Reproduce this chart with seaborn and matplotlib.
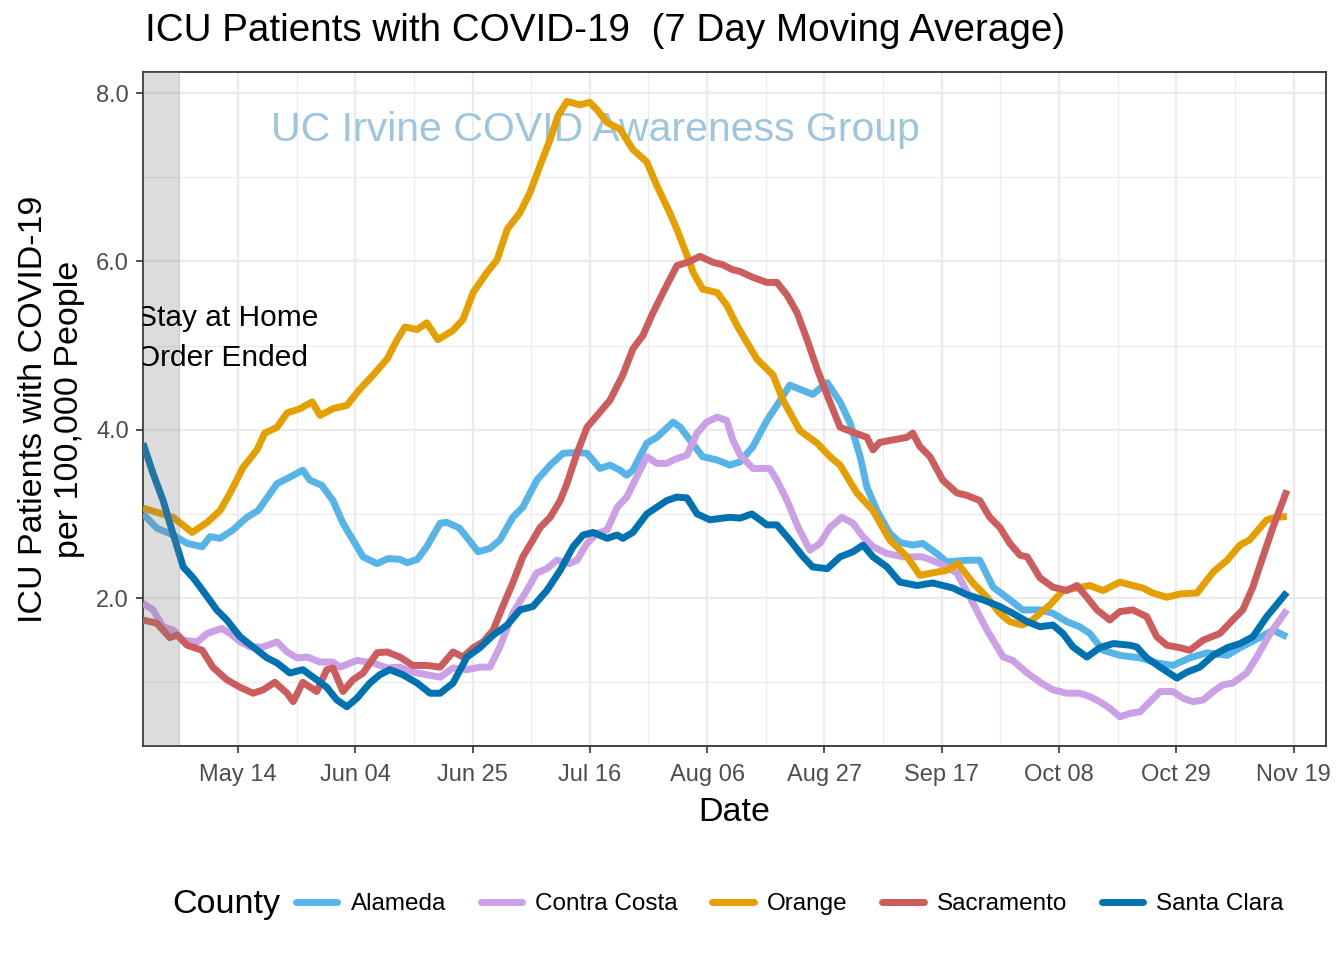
import numpy as np
import pandas as pd
import matplotlib
matplotlib.use("Agg")
import matplotlib.pyplot as plt
import seaborn as sns
from matplotlib.lines import Line2D

START = "2020-04-27"
SHADE_END = "2020-05-03 14:00"

# ---- data: (days since START, ICU patients per 100k) ----
alameda_days = [0, 2.5, 5.4, 7.9, 10.6, 12, 13.8, 16.1, 18.6, 20.6, 22.2, 24, 25.8, 28.6, 29.9, 32, 34, 35.8, 37.6, 39.4,
                41.9, 43.9, 46, 47.3, 49.1, 50.8, 53.2, 54.4, 56.7, 60, 62.1, 63.9, 66.2, 68, 70.5, 72.9, 75.2, 77.7, 79.5,
                81.8, 83.6, 85.4, 86.6, 87.7, 90.2, 92, 94.9, 96.2, 97.9, 100.2, 102.8, 105.1, 106.9, 109.2, 111.7, 113.7,
                115.8, 119.9, 122.5, 124.8, 126.6, 128.4, 129.6, 131.4, 133.7, 135.5, 137.8, 139.6, 142.1, 143.9, 147.5,
                149.8, 152.2, 155.2, 157.5, 160.6, 162.9, 165.4, 167.7, 169.5, 171.9, 174.9, 178.5, 181.5, 184.4, 187.4,
                190.5, 194.1, 196.4, 199.9, 202.3, 204.8]
alameda_vals = [3.0, 2.83, 2.75, 2.65, 2.61, 2.73, 2.71, 2.81, 2.96, 3.04, 3.19, 3.36, 3.42, 3.52, 3.4, 3.34, 3.16, 2.89, 2.69,
                2.49, 2.41, 2.47, 2.46, 2.42, 2.46, 2.61, 2.89, 2.9, 2.83, 2.55, 2.59, 2.69, 2.96, 3.08, 3.4, 3.58, 3.72, 3.73,
                3.72, 3.54, 3.58, 3.52, 3.46, 3.52, 3.84, 3.91, 4.09, 4.03, 3.88, 3.68, 3.64, 3.58, 3.62, 3.8, 4.11, 4.31,
                4.53, 4.42, 4.56, 4.33, 4.08, 3.68, 3.32, 3.04, 2.77, 2.66, 2.63, 2.65, 2.53, 2.43, 2.45, 2.45, 2.13, 1.98,
                1.86, 1.86, 1.82, 1.72, 1.66, 1.58, 1.38, 1.32, 1.29, 1.23, 1.2, 1.29, 1.35, 1.32, 1.41, 1.53, 1.62, 1.54]

contra_days = [0, 1.8, 3.6, 5.4, 7.2, 9.7, 11.5, 14.1, 15.6, 17.4, 19.2, 21.5, 24, 25.8, 27.6, 29.4, 31.7, 34, 35.3, 38.3,
               41.2, 43.7, 46, 48.3, 50.8, 53.2, 55.5, 58, 60.3, 62.1, 63.9, 66.2, 68.7, 70.5, 72.3, 74.1, 76.4, 77.7, 79.5,
               81.3, 83.1, 84.9, 86.6, 88.4, 90.2, 92, 93.8, 94.9, 97.4, 99.2, 100.9, 102.8, 104.5, 105.6, 106.9, 109.2,
               112.2, 113.5, 115.3, 117.3, 119.4, 121.2, 123, 125.1, 127.1, 128.9, 130.7, 133.2, 136.1, 139.6, 142.7, 145.7,
               148.6, 151.1, 154, 155.7, 158.3, 160.6, 162.9, 165.4, 167.7, 169.5, 171.3, 173.1, 174.9, 176.7, 178.5, 180.3,
               182.1, 184.4, 186.2, 188, 189.8, 191.6, 193.3, 195.1, 197.6, 199.4, 201.8, 204.8]
contra_vals = [1.94, 1.86, 1.66, 1.62, 1.5, 1.48, 1.58, 1.64, 1.58, 1.48, 1.42, 1.42, 1.48, 1.36, 1.29, 1.3, 1.24, 1.24, 1.18,
               1.26, 1.23, 1.17, 1.18, 1.12, 1.09, 1.06, 1.17, 1.15, 1.18, 1.18, 1.42, 1.82, 2.09, 2.3, 2.35, 2.45, 2.41, 2.45,
               2.65, 2.77, 2.81, 3.08, 3.2, 3.44, 3.68, 3.6, 3.6, 3.64, 3.7, 3.96, 4.09, 4.15, 4.11, 3.88, 3.7, 3.54, 3.54,
               3.4, 3.16, 2.84, 2.57, 2.65, 2.84, 2.96, 2.89, 2.73, 2.61, 2.53, 2.49, 2.49, 2.41, 2.3, 1.94, 1.62, 1.3, 1.26,
               1.11, 1.0, 0.91, 0.87, 0.87, 0.83, 0.77, 0.69, 0.59, 0.63, 0.65, 0.77, 0.89, 0.89, 0.81, 0.77, 0.79, 0.89,
               0.97, 0.99, 1.11, 1.3, 1.58, 1.86]

orange_days = [0, 5.4, 8.8, 11.5, 13.8, 15.6, 17.9, 20.4, 21.8, 24, 25.8, 28.1, 30.3, 31.7, 34, 36.5, 38.8, 41.2, 43.7, 45.5,
               46.9, 49.1, 50.8, 52.8, 55.5, 57.3, 59.1, 61.6, 63.4, 65.2, 67.5, 69.3, 71.1, 72.9, 74.3, 75.9, 78.2, 80,
               81.3, 83.1, 85.4, 87.7, 90.2, 92, 94.3, 95.6, 97.4, 98.5, 100.2, 102.8, 104.5, 106.5, 109.9, 112.8, 114.6,
               117.6, 120.7, 123, 124.8, 127.8, 130.7, 133.7, 136.8, 139.1, 141.4, 143.9, 145.9, 148.6, 151.1, 153.4, 155.2,
               157.4, 159.3, 160.6, 162.4, 164.7, 167.2, 169.5, 171.9, 174.9, 177.2, 179, 180.8, 183.3, 185.7, 188.7, 191.6,
               194.1, 196.4, 198.1, 201.2, 203, 204.8]
orange_vals = [3.07, 2.96, 2.78, 2.9, 3.04, 3.25, 3.55, 3.76, 3.96, 4.03, 4.2, 4.25, 4.33, 4.17, 4.25, 4.29, 4.48, 4.65, 4.84,
               5.07, 5.22, 5.19, 5.27, 5.07, 5.18, 5.31, 5.63, 5.87, 6.02, 6.38, 6.58, 6.82, 7.14, 7.45, 7.73, 7.9, 7.86, 7.89,
               7.8, 7.65, 7.57, 7.33, 7.18, 6.9, 6.58, 6.38, 6.07, 5.87, 5.67, 5.63, 5.48, 5.22, 4.84, 4.65, 4.35, 3.99, 3.84,
               3.68, 3.58, 3.25, 3.04, 2.69, 2.49, 2.27, 2.3, 2.33, 2.41, 2.18, 2.01, 1.82, 1.72, 1.68, 1.74, 1.82, 1.92, 2.09,
               2.12, 2.15, 2.09, 2.19, 2.15, 2.12, 2.06, 2.01, 2.05, 2.06, 2.31, 2.45, 2.63, 2.69, 2.93, 2.96, 2.97]

sacramento_days = [0, 2.5, 4.8, 6.1, 7.9, 10.6, 12.5, 15, 17.4, 19.7, 21.5, 23.6, 25.8, 26.9, 28.6, 31.1, 32.9, 34, 35.8,
                   37.6, 39.4, 41.9, 43.7, 46, 48.3, 50.8, 53.2, 55.5, 57.3, 59.1, 60.9, 62.7, 64.4, 66.2, 68, 69.8, 71.1,
                   72.9, 74.7, 75.9, 77.7, 79.5, 81.3, 83.6, 85.9, 87.7, 89.5, 91.3, 93.8, 95.6, 97.9, 99.7, 102, 103.8,
                   105.6, 106.9, 109.2, 111.7, 113.5, 115.3, 117.1, 118.9, 120.7, 122.5, 124.8, 127.1, 129.6, 130.7, 131.9,
                   134.3, 136.8, 137.8, 139.1, 140.9, 143.2, 145.7, 147.5, 149.8, 151.6, 153.4, 155.2, 157, 158.3, 160.6,
                   162.9, 165.4, 167.2, 169, 170.8, 173.1, 174.9, 177.2, 179.7, 181.5, 183.3, 185.7, 187.4, 189.8, 192.8,
                   195.1, 196.9, 198.7, 200.5, 202.3, 204.8]
sacramento_vals = [1.74, 1.7, 1.53, 1.56, 1.44, 1.38, 1.18, 1.03, 0.94, 0.87, 0.91, 1.0, 0.87, 0.77, 1.0, 0.89, 1.15, 1.17,
                   0.89, 1.03, 1.11, 1.35, 1.36, 1.3, 1.2, 1.2, 1.18, 1.36, 1.3, 1.41, 1.48, 1.62, 1.9, 2.18, 2.49, 2.69, 2.84,
                   2.96, 3.16, 3.36, 3.72, 4.03, 4.17, 4.35, 4.65, 4.96, 5.12, 5.39, 5.72, 5.95, 6.0, 6.06, 5.99, 5.96, 5.9,
                   5.88, 5.81, 5.75, 5.75, 5.6, 5.39, 5.07, 4.72, 4.41, 4.03, 3.97, 3.91, 3.76, 3.85, 3.88, 3.91, 3.96, 3.8,
                   3.68, 3.4, 3.25, 3.22, 3.16, 2.96, 2.84, 2.65, 2.51, 2.49, 2.24, 2.13, 2.09, 2.15, 2.01, 1.86, 1.74, 1.84,
                   1.86, 1.78, 1.54, 1.44, 1.41, 1.38, 1.5, 1.58, 1.74, 1.86, 2.13, 2.49, 2.84, 3.28]

santaclara_days = [0, 1.8, 3.6, 4.8, 6.1, 7.2, 9, 10.7, 13.2, 15, 17.4, 19.7, 22.2, 24, 26.3, 28.6, 31.1, 32.9, 34.7, 36.5,
                   38.3, 40.6, 42.4, 44.2, 46.5, 49.1, 51.4, 53.2, 55.5, 58, 60.3, 62.7, 65.2, 67.5, 69.8, 72.3, 74.7, 77,
                   78.8, 80.6, 83.1, 84.9, 85.9, 87.7, 90.2, 92, 93.8, 95.6, 97.4, 99.2, 101.5, 103.8, 105.1, 106.9, 109,
                   111.7, 113.5, 115.8, 118.2, 119.9, 122.5, 124.8, 127.1, 128.9, 130.7, 133.2, 135.5, 138.6, 141.4, 145,
                   147.5, 150.4, 153.4, 155.7, 158.3, 160.6, 162.9, 164.7, 166.5, 169, 171.3, 173.7, 176.7, 177.9, 179.7,
                   182.1, 185.1, 186.9, 189.2, 191.6, 194.1, 196.4, 198.7, 201.2, 204.8]
santaclara_vals = [3.84, 3.48, 3.16, 2.89, 2.61, 2.37, 2.24, 2.09, 1.86, 1.74, 1.54, 1.42, 1.29, 1.23, 1.11, 1.15, 1.03, 0.94,
                   0.79, 0.71, 0.81, 0.99, 1.09, 1.15, 1.09, 0.99, 0.87, 0.87, 0.99, 1.3, 1.41, 1.56, 1.68, 1.86, 1.9, 2.09,
                   2.33, 2.61, 2.75, 2.78, 2.71, 2.75, 2.71, 2.78, 3.0, 3.08, 3.16, 3.2, 3.19, 3.0, 2.93, 2.95, 2.96, 2.95,
                   3.0, 2.87, 2.87, 2.69, 2.49, 2.37, 2.35, 2.49, 2.55, 2.63, 2.49, 2.37, 2.19, 2.15, 2.18, 2.12, 2.04, 1.98,
                   1.9, 1.82, 1.72, 1.66, 1.68, 1.58, 1.42, 1.3, 1.41, 1.46, 1.44, 1.42, 1.29, 1.18, 1.05, 1.12, 1.18, 1.32,
                   1.41, 1.46, 1.54, 1.78, 2.07]

counties = ["Alameda", "Contra Costa", "Orange", "Sacramento", "Santa Clara"]
colors = ["#56B4E9", "#CBA0E6", "#E69F00", "#CD5C5C", "#0072B2"]
major_ticks = ["2020-05-14", "2020-06-04", "2020-06-25", "2020-07-16", "2020-08-06",
               "2020-08-27", "2020-09-17", "2020-10-08", "2020-10-29", "2020-11-19"]
y_ticks = [2.0, 4.0, 6.0, 8.0]
y_minor = [1.0, 3.0, 5.0, 7.0]

series = {
    "Alameda": (alameda_days, alameda_vals),
    "Contra Costa": (contra_days, contra_vals),
    "Orange": (orange_days, orange_vals),
    "Sacramento": (sacramento_days, sacramento_vals),
    "Santa Clara": (santaclara_days, santaclara_vals),
}
start = pd.Timestamp(START)
frames = []
for name in counties:
    d, v = series[name]
    frames.append(pd.DataFrame({
        "Date": start + pd.to_timedelta(np.array(d), unit="D"),
        "value": v,
        "County": name,
    }))
df = pd.concat(frames, ignore_index=True)

sns.set_theme(style="white")
plt.rcParams["font.family"] = ["Liberation Sans", "DejaVu Sans"]
plt.rcParams["text.color"] = "black"
plt.rcParams["axes.labelcolor"] = "black"

fig = plt.figure(figsize=(13.44, 9.6), dpi=100)
ax = fig.add_axes([143 / 1344, 1 - 746 / 960, (1326 - 143) / 1344, (746 - 72) / 960])

sns.lineplot(data=df, x="Date", y="value", hue="County", hue_order=counties,
             palette=colors, estimator=None, linewidth=5.0, ax=ax, legend=False,
             solid_capstyle="butt", zorder=3)

ax.axvspan(start - pd.Timedelta(days=5), pd.Timestamp(SHADE_END), color="#7F7F7F",
           alpha=0.27, lw=0, zorder=4)

x0 = start
x1 = start + pd.Timedelta(days=211.8)
ax.set_xlim(x0, x1)
ax.set_ylim(0.243, 8.25)

maj = pd.to_datetime(major_ticks)
ax.set_xticks(maj)
ax.set_xticklabels([t.strftime("%b %d") for t in maj])
ax.set_xticks(maj - pd.Timedelta(hours=252), minor=True)
ax.set_yticks(y_ticks)
ax.set_yticklabels([f"{v:.1f}" for v in y_ticks])
ax.set_yticks(y_minor, minor=True)

ax.set_axisbelow(True)
ax.grid(which="major", color="#EBEBEB", lw=1.6)
ax.grid(which="minor", color="#EBEBEB", lw=0.9)
for s in ax.spines.values():
    s.set_color("#333333")
    s.set_linewidth(1.3)
ax.tick_params(which="major", length=5, width=1.2, color="#333333",
               labelcolor="#4D4D4D", labelsize=17, pad=5, bottom=True, left=True)
ax.tick_params(axis="x", which="major", pad=8)
ax.tick_params(which="minor", length=0)

ax.set_xlabel("Date", fontsize=24.5, labelpad=8, color="black")
ax.set_ylabel("ICU Patients with COVID-19\nper 100,000 People", fontsize=24.5,
              labelpad=8, color="black", linespacing=1.2)

ax.text(start + pd.Timedelta(days=81), 7.56, "UC Irvine COVID Awareness Group",
        color="#9EC5DE", fontsize=29.5, ha="center", va="center", zorder=2)
ax.text(start - pd.Timedelta(days=1.0), 5.09, "Stay at Home\nOrder Ended",
        fontsize=21.5, ha="left", va="center", linespacing=1.55, clip_on=True, zorder=5)

fig.text(145 / 1344, 1 - 31 / 960, "ICU Patients with COVID-19  (7 Day Moving Average)",
         fontsize=27.8, ha="left", va="center", color="black")

fig.text(172 / 1344, 1 - 904 / 960, "County", fontsize=24.5, ha="left", va="center", color="black")
handles = [Line2D([0], [0], color=c, lw=5) for c in colors]
fig.legend(handles, counties, loc="center left", bbox_to_anchor=(296 / 1344, 1 - 904 / 960),
           ncol=5, frameon=False, fontsize=17.5, handlelength=1.7, handletextpad=0.55,
           columnspacing=1.42, borderaxespad=0, borderpad=0, labelcolor="black")

fig.savefig("out.png", dpi=100)
